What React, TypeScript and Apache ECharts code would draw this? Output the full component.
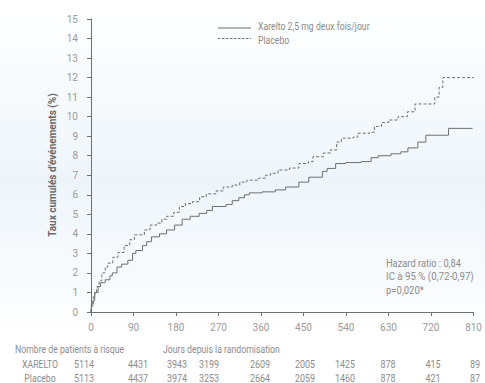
import React, { useEffect, useRef } from "react";
import * as echarts from "echarts";

// Cumulative event rate (%) step points: [day, value]
const xareltoCurve: [number, number][] = [
  [0, 0], [1, 0.3], [4, 0.6], [8, 1.0], [15, 1.3], [20, 1.5], [30, 1.65], [40, 1.85],
  [45, 2.0], [55, 2.3], [65, 2.45], [78, 2.65], [88, 3.0], [95, 3.15], [109, 3.4],
  [118, 3.6], [128, 3.85], [145, 4.0], [160, 4.2], [177, 4.45], [193, 4.75], [210, 4.9],
  [229, 5.05], [245, 5.2], [257, 5.4], [286, 5.5], [299, 5.7], [313, 5.85], [325, 6.0],
  [335, 6.1], [362, 6.15], [390, 6.25], [412, 6.4], [440, 6.65], [461, 6.9], [490, 7.2],
  [500, 7.35], [518, 7.6], [539, 7.65], [572, 7.7], [593, 7.9], [608, 8.0], [635, 8.1],
  [656, 8.2], [671, 8.4], [692, 8.7], [709, 9.05], [757, 9.4], [808, 9.4],
];
const placeboCurve: [number, number][] = [
  [0, 0], [1, 0.45], [5, 0.8], [8, 1.0], [12, 1.3], [17, 1.6], [23, 2.0], [30, 2.3],
  [36, 2.5], [46, 2.8], [57, 3.05], [70, 3.4], [82, 3.7], [92, 3.95], [113, 4.2],
  [125, 4.45], [139, 4.55], [150, 4.75], [160, 4.9], [175, 5.1], [187, 5.4], [200, 5.55],
  [215, 5.65], [230, 5.9], [244, 6.05], [265, 6.2], [280, 6.4], [299, 6.5], [315, 6.65],
  [330, 6.75], [355, 6.85], [370, 7.0], [380, 7.1], [396, 7.27], [420, 7.37], [440, 7.6],
  [460, 7.7], [470, 7.95], [492, 8.14], [507, 8.3], [520, 8.7], [530, 8.9], [555, 8.95],
  [565, 9.15], [590, 9.2], [600, 9.5], [615, 9.7], [630, 9.83], [650, 10.0], [670, 10.25],
  [686, 10.65], [728, 11.0], [737, 11.5], [745, 12.0], [810, 12.0],
];

const seriesNames = ["Xarelto 2,5 mg deux fois/jour", "Placebo"];
const xTicks = [0, 90, 180, 270, 360, 450, 540, 630, 720, 810];
const atRiskXarelto = [5114, 4431, 3943, 3199, 2609, 2005, 1425, 878, 415, 89];
const atRiskPlacebo = [5113, 4437, 3974, 3253, 2664, 2059, 1460, 878, 421, 87];
const atRiskRowLabels = ["XARELTO", "Placebo"];
const statsLines = ["Hazard ratio : 0,84", "IC à 95 % (0,72-0,97)", "p=0,020*"];
const yAxisTitle = "Taux cumulés d'événements (%)";
const xAxisTitle = "Jours depuis la randomisation";
const atRiskTitle = "Nombre de patients à risque";

// layout (pixels) for the at-risk table text
const atRiskColX = [84, 138, 177, 209, 260, 305, 345, 388, 433, 475];

const FONT = "'Liberation Sans Narrow', Roboto, sans-serif";
const LINE = "#6f6f6f";
const TXT = "#8c8c8c";

export default function App() {
  const ref = useRef<HTMLDivElement>(null);
  useEffect(() => {
    if (!ref.current) return;
    document.body.style.margin = "0";
    const chart = echarts.init(ref.current, null, { renderer: "svg" });
    const txt = (x: number, y: number, text: string, align = "left", sx = 0.87) => ({
      type: "text",
      x,
      y,
      scaleX: sx,
      style: {
        text,
        fill: TXT,
        font: `10px ${FONT}`,
        align,
        verticalAlign: "middle",
      },
    });
    const graphics: any[] = [
      {
        type: "rect",
        z: -10,
        silent: true,
        shape: { x: 0, y: 0, width: 485, height: 330 },
        style: {
          fill: new echarts.graphic.LinearGradient(0, 0, 0, 1, [
            { offset: 0, color: "rgba(255,255,255,1)" },
            { offset: 0.55, color: "rgba(238,245,250,1)" },
            { offset: 0.9, color: "rgba(250,252,254,1)" },
            { offset: 1, color: "rgba(255,255,255,1)" },
          ]),
        },
      },
      { type: "line", shape: { x1: 218, y1: 28, x2: 251, y2: 28 }, style: { stroke: LINE, lineWidth: 1 } },
      { type: "line", shape: { x1: 218, y1: 38.5, x2: 251, y2: 38.5 }, style: { stroke: LINE, lineWidth: 1, lineDash: [2.5, 1.5] } },
      txt(258, 26, seriesNames[0]),
      txt(258, 40, seriesNames[1]),
      txt(386, 263, statsLines[0], "left", 0.93),
      txt(386, 276.5, statsLines[1], "left", 0.97),
      txt(386, 290, statsLines[2], "left", 0.95),
      txt(15, 349, atRiskTitle),
      txt(163, 349, xAxisTitle),
      txt(40, 364, atRiskRowLabels[0], "center"),
      txt(40, 378, atRiskRowLabels[1], "center"),
      {
        type: "text",
        x: 52,
        y: 165,
        rotation: Math.PI / 2,
        style: {
          text: yAxisTitle,
          fill: "#6a6a6a",
          font: `bold 10px ${FONT}`,
          align: "center",
          verticalAlign: "middle",
        },
      },
    ];
    atRiskXarelto.forEach((v, i) => graphics.push(txt(atRiskColX[i], 364, String(v), "center", 0.9)));
    atRiskPlacebo.forEach((v, i) => graphics.push(txt(atRiskColX[i], 378, String(v), "center", 0.9)));

    chart.setOption({
      animation: false,
      backgroundColor: "#ffffff",
      grid: { left: 91, top: 19, right: 9, bottom: 71, containLabel: false },
      xAxis: {
        type: "value",
        min: 0,
        max: 810,
        interval: 90,
        axisLine: { show: true, lineStyle: { color: LINE, width: 1 } },
        axisTick: { show: true, length: 4, lineStyle: { color: LINE } },
        splitLine: { show: false },
        axisLabel: {
          color: "#9a9a9a",
          fontSize: 10,
          fontFamily: FONT,
          margin: 10,
          formatter: (v: number) => (xTicks.includes(v) ? String(v) : ""),
        },
      },
      yAxis: {
        type: "value",
        min: 0,
        max: 15,
        interval: 1,
        axisLine: { show: true, lineStyle: { color: LINE, width: 1 } },
        axisTick: { show: true, length: 4, lineStyle: { color: LINE } },
        splitLine: { show: false },
        axisLabel: { color: "#9a9a9a", fontSize: 10, fontFamily: FONT, margin: 13 },
      },
      series: [
        {
          name: seriesNames[0],
          type: "line",
          step: "end",
          data: xareltoCurve,
          showSymbol: false,
          lineStyle: { color: LINE, width: 1 },
        },
        {
          name: seriesNames[1],
          type: "line",
          step: "end",
          data: placeboCurve,
          showSymbol: false,
          lineStyle: { color: LINE, width: 1, type: [3, 2] },
        },
      ],
      graphic: graphics,
    });
    return () => chart.dispose();
  }, []);
  return (
    <div
      ref={ref}
      style={{ position: "absolute", left: 0, top: 0, width: 485, height: 383 }}
    />
  );
}
